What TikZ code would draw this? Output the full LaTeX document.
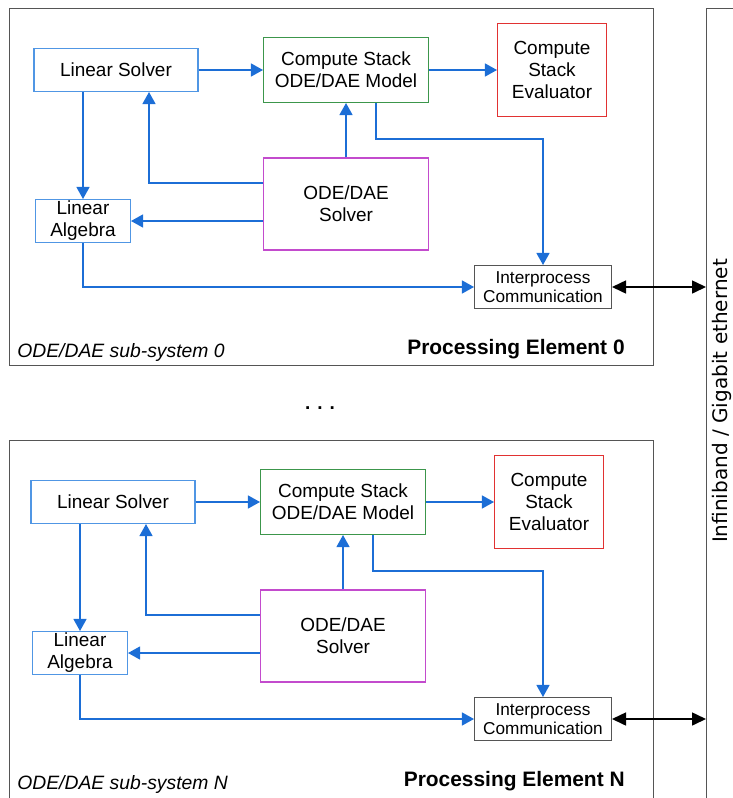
\documentclass[tikz,border=0pt]{standalone}
\usepackage{fontspec}
\setmainfont{Liberation Sans}
\newfontfamily\busfont{DejaVu Sans}
\usetikzlibrary{arrows.meta,calc,positioning}
\definecolor{flowblue}{RGB}{28,110,214}
\definecolor{lightblue}{RGB}{80,150,228}
\definecolor{modelgreen}{RGB}{60,150,75}
\definecolor{evalred}{RGB}{225,50,50}
\definecolor{solvermag}{RGB}{195,75,205}
\definecolor{framegray}{RGB}{85,85,85}
\tikzstyle{box}=[draw,align=center,inner sep=0pt,line width=.6pt,
  font=\fontsize{10.8}{12.6}\selectfont]
\tikzstyle{frame}=[draw=framegray,line width=.6pt,inner sep=0pt]
\tikzstyle{flow}=[-{Triangle[length=2.4mm,width=2.6mm]}, flowblue, line width=.7pt]
\tikzstyle{link}=[{Triangle[length=2.8mm,width=2.6mm]}-{Triangle[length=2.8mm,width=2.6mm]}, black, line width=.9pt]

\begin{document}
\begin{tikzpicture}[x=0.02cm, y=-0.02cm]
  \path[use as bounding box, clip] (0,0) rectangle (733,798);

  % the bus on the right
  \node[frame, minimum width=.8cm, minimum height=16.1cm, anchor=north west] (bus) at (706,8) {};
  \node[rotate=90, font=\busfont\fontsize{11.4}{13}\selectfont] (buslabel) at (722,401)
    {Infiniband / Gigabit ethernet};

  \node[font=\bfseries\fontsize{10.8}{12}\selectfont] (dots) at (320,408) {. . .};

  \foreach \pe/\dx/\dy/\num/\h in {0/0/0/0/357, n/-3/432/N/380} {
    \node[frame, minimum width=12.88cm, minimum height=\h*0.02cm, anchor=north west] (pe\pe) at (9,8+\dy) {};

    \node[box, draw=lightblue, minimum width=3.28cm, minimum height=.86cm] (ls\pe) at (116+\dx,70+\dy) {Linear Solver};
    \node[box, draw=modelgreen, minimum width=3.3cm, minimum height=1.3cm] (csm\pe) at (346+\dx,70+\dy) {Compute Stack\\ODE/DAE Model};
    \node[box, draw=evalred, minimum width=2.18cm, minimum height=1.86cm] (eval\pe) at (552+\dx,70+\dy) {Compute\\Stack\\Evaluator};
    \node[box, draw=lightblue, minimum width=1.9cm, minimum height=.86cm] (la\pe) at (83+\dx,221+\dy) {Linear\\Algebra};
    \node[box, draw=solvermag, minimum width=3.3cm, minimum height=1.84cm] (sol\pe) at (346+\dx,204+\dy) {ODE/DAE\\Solver};
    \node[box, draw=framegray, minimum width=2.74cm, minimum height=.86cm,
      font=\fontsize{9.8}{10.8}\selectfont] (ipc\pe) at (543,287+\dy) {Interprocess\\Communication};

    \node[anchor=west, inner sep=0pt, font=\itshape\fontsize{11}{13}\selectfont] (sub\pe) at (17,352+\dy) {ODE/DAE sub-system \num};
    \node[anchor=east, inner sep=0pt, font=\bfseries\fontsize{11.9}{14}\selectfont] (name\pe) at (625,349+\dy) {Processing Element \num};

    \draw[flow] (ls\pe) -- (csm\pe);
    \draw[flow] (csm\pe) -- (eval\pe);
    \draw[flow] (ls\pe.south -| la\pe.north) -- (la\pe.north);
    \draw[flow] ($(sol\pe.west)+(0,-21)$) -| ($(ls\pe.south)+(33,0)$);
    \draw[flow] (la\pe.east -| sol\pe.west) -- (la\pe.east);
    \draw[flow] (sol\pe) -- (csm\pe);
    \draw[flow] ($(csm\pe.south)+(30,0)$) -- ++(0,36) -| (ipc\pe.north);
    \draw[flow] (la\pe.south) |- (ipc\pe.west);
    \draw[link] (ipc\pe.east) -- (ipc\pe.east -| bus.west);
  }
\end{tikzpicture}
\end{document}
